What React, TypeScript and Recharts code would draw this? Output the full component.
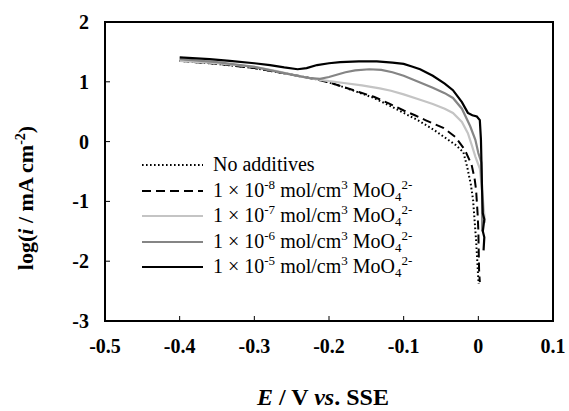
import React from 'react';
import { LineChart, Line, XAxis, YAxis, ReferenceArea, Legend } from 'recharts';

const FONT = "'Liberation Serif', 'Times New Roman', Times, serif";

const X_TICKS = [-0.5, -0.4, -0.3, -0.2, -0.1, 0, 0.1];
const Y_TICKS = [-3, -2, -1, 0, 1, 2];

// No additives (dotted)
const E_NONE = [-0.4, -0.35, -0.3, -0.25, -0.22, -0.2, -0.18, -0.16, -0.14, -0.12, -0.1, -0.08, -0.06, -0.045, -0.03, -0.02, -0.015, -0.01, -0.007, -0.003, 0.0, 0.0005];
const LOG_NONE = [1.35, 1.3, 1.23, 1.12, 1.05, 0.99, 0.91, 0.82, 0.73, 0.61, 0.48, 0.35, 0.2, 0.07, -0.06, -0.18, -0.42, -0.72, -0.98, -1.65, -2.31, -2.38];

// 1e-8 (dashed)
const E_M8 = [-0.4, -0.35, -0.3, -0.25, -0.22, -0.2, -0.18, -0.16, -0.14, -0.12, -0.1, -0.085, -0.071, -0.047, -0.031, -0.018, -0.009, -0.005, -0.003, -0.001, 0.0, 0.001, 0.002];
const LOG_M8 = [1.35, 1.3, 1.23, 1.12, 1.05, 0.99, 0.91, 0.83, 0.75, 0.64, 0.52, 0.44, 0.36, 0.23, 0.08, -0.14, -0.39, -0.62, -0.81, -1.2, -1.48, -2.15, -2.35];

// 1e-7 (light grey)
const E_M7 = [-0.4, -0.35, -0.3, -0.27, -0.242, -0.22, -0.2, -0.18, -0.156, -0.132, -0.117, -0.1, -0.078, -0.061, -0.045, -0.034, -0.022, -0.014, -0.009, -0.004, 0.002, 0.006, 0.009];
const LOG_M7 = [1.35, 1.31, 1.25, 1.18, 1.1, 1.05, 1.01, 0.98, 0.94, 0.89, 0.85, 0.79, 0.7, 0.63, 0.55, 0.48, 0.33, 0.14, -0.05, -0.25, -0.45, -0.95, -1.36];

// 1e-6 (mid grey)
const E_M6 = [-0.4, -0.35, -0.3, -0.27, -0.242, -0.225, -0.212, -0.2, -0.192, -0.178, -0.165, -0.146, -0.13, -0.115, -0.1, -0.078, -0.061, -0.045, -0.034, -0.022, -0.011, -0.004, 0.0, 0.004, 0.005, 0.005];
const LOG_M6 = [1.38, 1.33, 1.25, 1.17, 1.1, 1.06, 1.05, 1.08, 1.11, 1.16, 1.19, 1.21, 1.2, 1.16, 1.1, 0.99, 0.9, 0.81, 0.73, 0.55, 0.26, 0.03, -0.19, -0.35, -0.8, -1.5];

// 1e-5 (black)
const E_M5 = [-0.4, -0.36, -0.333, -0.3, -0.279, -0.26, -0.242, -0.23, -0.216, -0.2, -0.185, -0.16, -0.136, -0.115, -0.1, -0.09, -0.078, -0.061, -0.045, -0.034, -0.022, -0.014, -0.008, -0.002, 0.002, 0.0035, 0.005, 0.006, 0.008, 0.006, 0.008, 0.007];
const LOG_M5 = [1.41, 1.38, 1.35, 1.31, 1.28, 1.24, 1.21, 1.23, 1.28, 1.31, 1.33, 1.34, 1.34, 1.32, 1.3, 1.26, 1.21, 1.1, 0.97, 0.86, 0.66, 0.48, 0.44, 0.42, 0.36, 0.03, -0.81, -1.2, -1.3, -1.5, -1.6, -1.82];

const CONC_EXP = [null, -8, -7, -6, -5];

const toData = (e: number[], l: number[]) => e.map((x, i) => ({ x, y: l[i] }));

const SERIES = [
  { key: 'none', data: toData(E_NONE, LOG_NONE), stroke: '#000', width: 2, dash: '1.6 2.4' },
  { key: 'm8', data: toData(E_M8, LOG_M8), stroke: '#000', width: 2, dash: '9 5' },
  { key: 'm7', data: toData(E_M7, LOG_M7), stroke: '#c4c4c4', width: 2.2, dash: undefined },
  { key: 'm6', data: toData(E_M6, LOG_M6), stroke: '#858585', width: 2.2, dash: undefined },
  { key: 'm5', data: toData(E_M5, LOG_M5), stroke: '#000', width: 2.2, dash: undefined },
];

const fmt = (v: number) => (v === 0 ? '0' : String(+v.toFixed(1)));

const tickText: React.CSSProperties = { fontFamily: FONT, fontWeight: 700, fontSize: 20 };

function XTick(props: any) {
  const { x, y, payload } = props;
  return (
    <g>
      <line x1={x} y1={y} x2={x} y2={y - 5} stroke="#000" strokeWidth={1} />
      <text x={x} y={y + 32} textAnchor="middle" fill="#000" style={tickText}>
        {fmt(payload.value)}
      </text>
    </g>
  );
}

function YTick(props: any) {
  const { x, y, payload } = props;
  return (
    <g>
      <line x1={x} y1={y} x2={x + 5} y2={y} stroke="#000" strokeWidth={1} />
      <text x={x - 16} y={y + 7} textAnchor="end" fill="#000" style={tickText}>
        {payload.value}
      </text>
    </g>
  );
}

const supStyle: React.CSSProperties = { fontSize: 13, position: 'relative', top: -8, verticalAlign: 'baseline' };
const subStyle: React.CSSProperties = { fontSize: 13, position: 'relative', top: 4, verticalAlign: 'baseline' };

function LegendLabel({ exp }: { exp: number | null }) {
  if (exp === null) return <span>No additives</span>;
  return (
    <span>
      1 × 10<span style={supStyle}>{exp}</span> mol/cm<span style={supStyle}>3</span> MoO
      <span style={subStyle}>4</span>
      <span style={supStyle}>2-</span>
    </span>
  );
}

function LegendBox() {
  return (
    <div style={{ position: 'relative', width: 290, height: 130, fontFamily: FONT, fontSize: 20, color: '#000' }}>
      {SERIES.map((s, i) => (
        <div key={s.key} style={{ position: 'absolute', left: 0, top: i * 25.5, height: 26, width: 290 }}>
          <svg width={62} height={26} style={{ position: 'absolute', left: 0, top: 0 }}>
            <line x1={0} y1={13} x2={61} y2={13} stroke={s.stroke} strokeWidth={s.width} strokeDasharray={s.dash} />
          </svg>
          <div style={{ position: 'absolute', left: 71, top: -1, lineHeight: '26px', whiteSpace: 'nowrap' }}>
            <LegendLabel exp={CONC_EXP[i]} />
          </div>
        </div>
      ))}
    </div>
  );
}

export default function App() {
  return (
    <div style={{ position: 'absolute', left: 0, top: 0, width: 569, height: 411, background: '#fff', fontFamily: FONT }}>
      <LineChart width={569} height={411} margin={{ top: 22, right: 16, bottom: 60, left: 45 }}>
        <XAxis
          type="number"
          dataKey="x"
          domain={[-0.5, 0.1]}
          ticks={X_TICKS}
          tick={<XTick />}
          tickLine={false}
          axisLine={false}
          tickSize={0}
          tickMargin={0}
          height={30}
          allowDataOverflow
        />
        <YAxis
          type="number"
          domain={[-3, 2]}
          ticks={Y_TICKS}
          tick={<YTick />}
          tickLine={false}
          axisLine={false}
          tickSize={0}
          tickMargin={0}
          width={60}
          allowDataOverflow
        />
        <ReferenceArea x1={-0.5} x2={0.1} y1={-3} y2={2} fill="none" fillOpacity={0} stroke="#000" strokeWidth={2} />
        {SERIES.map((s) => (
          <Line
            key={s.key}
            data={s.data}
            dataKey="y"
            type="linear"
            stroke={s.stroke}
            strokeWidth={s.width}
            strokeDasharray={s.dash}
            dot={false}
            activeDot={false}
            isAnimationActive={false}
          />
        ))}
        <Legend
          layout="vertical"
          align="center"
          verticalAlign="middle"
          wrapperStyle={{ left: 142, top: 152, width: 290, height: 130 }}
          content={() => <LegendBox />}
        />
      </LineChart>
      <div
        style={{
          position: 'absolute', left: 213, top: 385, width: 220, textAlign: 'center',
          fontSize: 24, lineHeight: '24px', fontWeight: 700, whiteSpace: 'nowrap',
        }}
      >
        <i>E</i> / V <i>vs</i>. SSE
      </div>
      <div
        style={{
          position: 'absolute', left: -74, top: 176, width: 200, height: 22, textAlign: 'center',
          fontSize: 22, lineHeight: '22px', fontWeight: 700, whiteSpace: 'nowrap', transform: 'rotate(-90deg)',
          transformOrigin: '100px 11px', marginTop: 11,
        }}
      >
        log(<i>i</i> / mA cm<span style={{ fontSize: 14, position: 'relative', top: -8 }}>-2</span>)
      </div>
    </div>
  );
}
